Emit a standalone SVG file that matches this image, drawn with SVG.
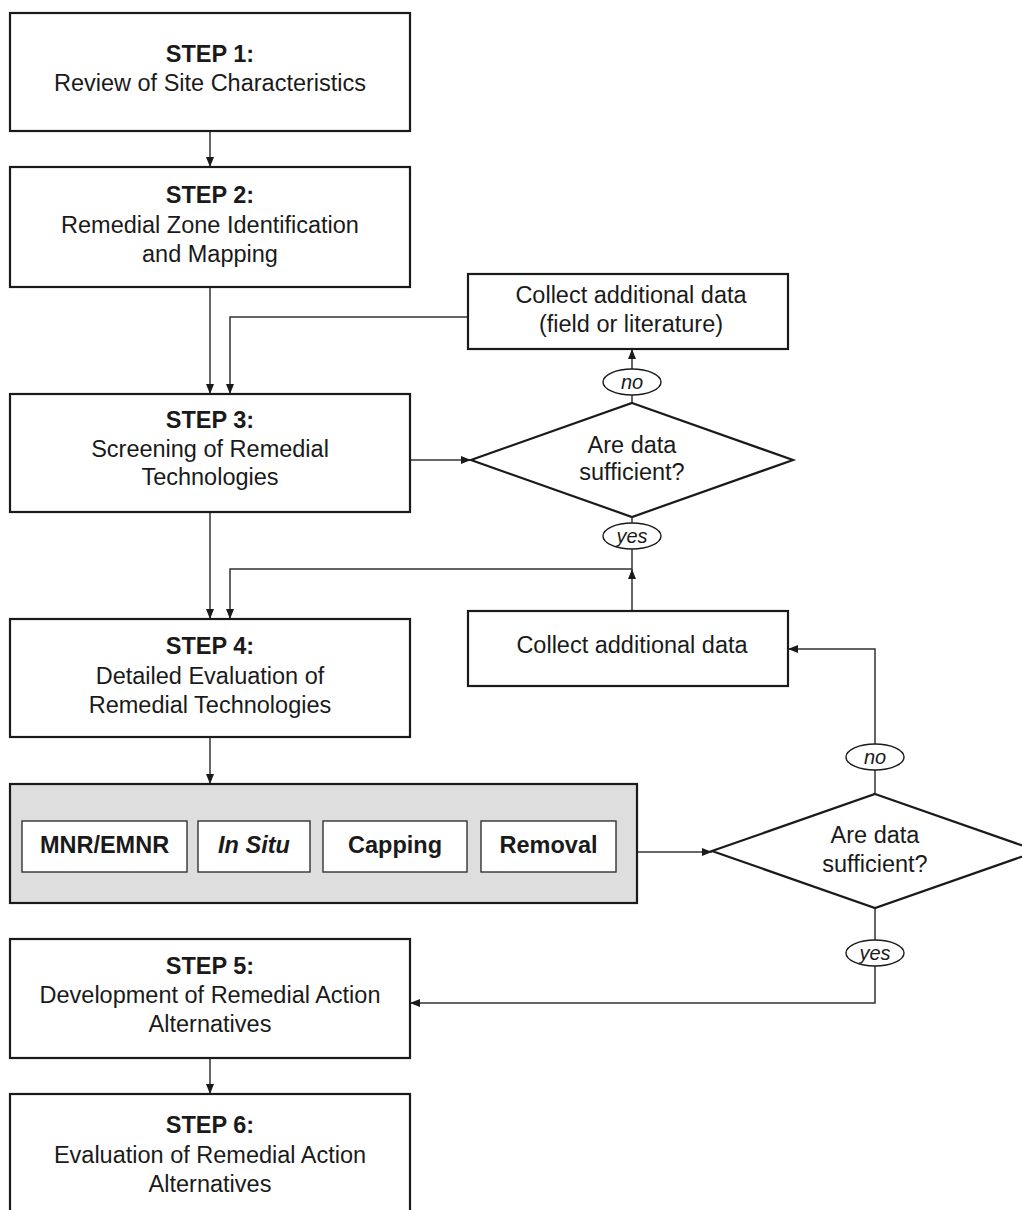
<svg xmlns="http://www.w3.org/2000/svg" width="1022" height="1210" viewBox="0 0 1022 1210">
<defs>
<marker id="arr" markerUnits="userSpaceOnUse" markerWidth="12" markerHeight="10" refX="10" refY="4" orient="auto">
<path d="M0,0 L10,4 L0,8 Z" fill="#1a1a1a"/>
</marker>
<style>
.box{fill:#fff;stroke:#1a1a1a;stroke-width:2.2}
.gray{fill:#dedede;stroke:#1a1a1a;stroke-width:2.2}
.inner{fill:#fff;stroke:#333;stroke-width:1.4}
.dia{fill:#fff;stroke:#1a1a1a;stroke-width:2.2}
.ell{fill:#fff;stroke:#1a1a1a;stroke-width:1.4}
.con{fill:none;stroke:#333;stroke-width:1.5}
.arw{fill:none;stroke:#333;stroke-width:1.5;marker-end:url(#arr)}
text{font-family:"Liberation Sans",Arial,Helvetica,sans-serif;font-size:23.5px;fill:#1a1a1a;text-anchor:middle}
.b{font-weight:bold}
.bi{font-weight:bold;font-style:italic}
.lab{font-style:italic;font-size:20px}
</style>
</defs>
<rect width="1022" height="1210" fill="#fff"/>

<g id="connectors">
<line class="arw" x1="210" y1="131" x2="210" y2="167"/>
<line class="arw" x1="210" y1="287" x2="210" y2="394"/>
<polyline class="arw" points="468,317 230,317 230,394"/>
<line class="arw" x1="410" y1="460" x2="471" y2="460"/>
<line class="arw" x1="632" y1="369" x2="632" y2="349"/>
<line class="con" x1="632" y1="395" x2="632" y2="403"/>
<line class="con" x1="632" y1="517" x2="632" y2="523"/>
<polyline class="arw" points="632,549 632,569 230,569 230,619"/>
<line class="arw" x1="632" y1="611" x2="632" y2="569"/>
<line class="arw" x1="210" y1="512" x2="210" y2="619"/>
<line class="arw" x1="210" y1="737" x2="210" y2="784"/>
<line class="arw" x1="634" y1="852" x2="712" y2="852"/>
<line class="con" x1="875" y1="794" x2="875" y2="770"/>
<polyline class="arw" points="875,744 875,649 788,649"/>
<line class="con" x1="875" y1="908" x2="875" y2="940"/>
<polyline class="arw" points="875,966 875,1003 410,1003"/>
<line class="arw" x1="210" y1="1058" x2="210" y2="1094"/>
</g>

<g id="step1">
<rect class="box" x="10" y="13" width="400" height="118"/>
<text class="b" x="210" y="62">STEP 1:</text>
<text x="210" y="91">Review of Site Characteristics</text>
</g>

<g id="step2">
<rect class="box" x="10" y="167" width="400" height="120"/>
<text class="b" x="210" y="203">STEP 2:</text>
<text x="210" y="233">Remedial Zone Identification</text>
<text x="210" y="262">and Mapping</text>
</g>

<g id="collect1">
<rect class="box" x="468" y="274" width="320" height="75"/>
<text x="631" y="303">Collect additional data</text>
<text x="631" y="332">(field or literature)</text>
</g>

<g id="no1">
<ellipse class="ell" cx="632" cy="382" rx="29" ry="13"/>
<text class="lab" x="632" y="389">no</text>
</g>

<g id="step3">
<rect class="box" x="10" y="394" width="400" height="118"/>
<text class="b" x="210" y="428">STEP 3:</text>
<text x="210" y="457">Screening of Remedial</text>
<text x="210" y="485">Technologies</text>
</g>

<g id="decision1">
<polygon class="dia" points="632,403 793,460 632,517 471,460"/>
<text x="632" y="453">Are data</text>
<text x="632" y="480">sufficient?</text>
</g>

<g id="yes1">
<ellipse class="ell" cx="632" cy="536" rx="29" ry="13"/>
<text class="lab" x="632" y="543">yes</text>
</g>

<g id="collect2">
<rect class="box" x="468" y="611" width="320" height="75"/>
<text x="632" y="653">Collect additional data</text>
</g>

<g id="step4">
<rect class="box" x="10" y="619" width="400" height="118"/>
<text class="b" x="210" y="654">STEP 4:</text>
<text x="210" y="684">Detailed Evaluation of</text>
<text x="210" y="713">Remedial Technologies</text>
</g>

<g id="options">
<rect class="gray" x="10" y="784" width="627" height="119"/>
<rect class="inner" x="22" y="821" width="165" height="51"/>
<text class="b" x="104.5" y="853">MNR/EMNR</text>
<rect class="inner" x="198" y="821" width="112" height="51"/>
<text class="bi" x="254" y="853">In Situ</text>
<rect class="inner" x="323" y="821" width="144" height="51"/>
<text class="b" x="395" y="853">Capping</text>
<rect class="inner" x="481" y="821" width="135" height="51"/>
<text class="b" x="548.5" y="853">Removal</text>
</g>

<g id="no2">
<ellipse class="ell" cx="875" cy="757" rx="29" ry="13"/>
<text class="lab" x="875" y="764">no</text>
</g>

<g id="decision2">
<polygon class="dia" points="875,794 1038,851 875,908 712,851"/>
<text x="875" y="843">Are data</text>
<text x="875" y="872">sufficient?</text>
</g>

<g id="yes2">
<ellipse class="ell" cx="875" cy="953" rx="29" ry="13"/>
<text class="lab" x="875" y="960">yes</text>
</g>

<g id="step5">
<rect class="box" x="10" y="939" width="400" height="119"/>
<text class="b" x="210" y="974">STEP 5:</text>
<text x="210" y="1003">Development of Remedial Action</text>
<text x="210" y="1032">Alternatives</text>
</g>

<g id="step6">
<rect class="box" x="10" y="1094" width="400" height="120"/>
<text class="b" x="210" y="1133">STEP 6:</text>
<text x="210" y="1163">Evaluation of Remedial Action</text>
<text x="210" y="1192">Alternatives</text>
</g>
</svg>
